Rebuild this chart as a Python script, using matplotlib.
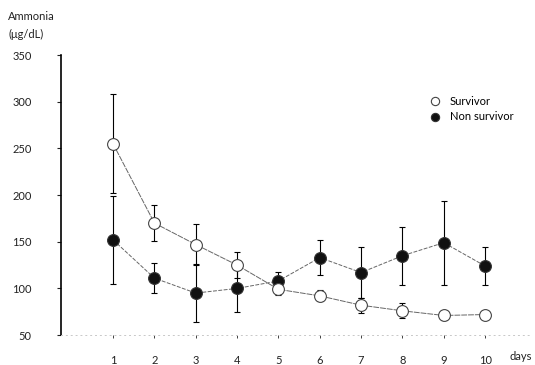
import numpy as np
import matplotlib.pyplot as plt

plt.rcParams['font.family'] = ['Lato', 'DejaVu Sans']

days = [1, 2, 3, 4, 5, 6, 7, 8, 9, 10]
surv = [255, 170, 147, 125, 99, 92, 82, 76, 71, 72]
surv_err = [53, 19, 22, 14, 6, 6, 8, 8, 5, 3]
non = [152, 111, 95, 100, 108, 133, 117, 135, 149, 124]
non_err = [47, 16, 31, 25, 10, 19, 27, 31, 45, 20]
yticks = [50, 100, 150, 200, 250, 300, 350]

fig = plt.figure(figsize=(5.35, 3.65), dpi=100)
ax = fig.add_axes([0.114, 0.082, 0.877, 0.767])

ax.errorbar(days, non, yerr=non_err, fmt='none', ecolor='black', elinewidth=0.8,
            capsize=2.5, capthick=0.8, zorder=2)
ax.errorbar(days, surv, yerr=surv_err, fmt='none', ecolor='black', elinewidth=0.8,
            capsize=2.5, capthick=0.8, zorder=2)
ax.plot(days, non, color='#666666', lw=0.7, ls=(0, (4, 1.5)), zorder=3)
ax.plot(days, surv, color='#666666', lw=0.7, ls=(0, (6, 1)), zorder=3)
ax.plot(days, non, 'o', ms=8.5, mfc='#111111', mec='#333333', mew=0.8,
        ls='none', label='Non survivor', zorder=4)
ax.plot(days, surv, 'o', ms=8.5, mfc='white', mec='#444444', mew=0.8,
        ls='none', label='Survivor', zorder=4)

ax.set_xlim(-0.26, 11.09)
ax.set_ylim(50, 350)
ax.set_yticks(yticks)
ax.set_xticks(days)
ax.tick_params(axis='y', labelsize=8, colors='#222222', length=3, width=0.8, pad=18)
ax.tick_params(axis='x', labelsize=8, colors='#222222', length=2, width=0.6, pad=12)
ax.spines['top'].set_visible(False)
ax.spines['right'].set_visible(False)
ax.spines['left'].set_linewidth(1.2)
ax.spines['bottom'].set_linestyle((0, (1, 4)))
ax.spines['bottom'].set_color('#c8c8c8')
ax.spines['bottom'].set_linewidth(0.7)

h, l = ax.get_legend_handles_labels()
ax.legend([h[1], h[0]], [l[1], l[0]], loc='upper left', bbox_to_anchor=(0.765, 0.87),
          frameon=False, fontsize=8, handletextpad=0.3, markerscale=0.7,
          labelspacing=0.4, borderaxespad=0)

fig.text(0.015, 0.955, 'Ammonia', fontsize=8, color='#222222', va='center')
fig.text(0.015, 0.905, '(μg/dL)', fontsize=8, color='#222222', va='center')
fig.text(0.953, 0.022, 'days', fontsize=8, color='#222222', va='center')

fig.savefig('out.png', dpi=100)
